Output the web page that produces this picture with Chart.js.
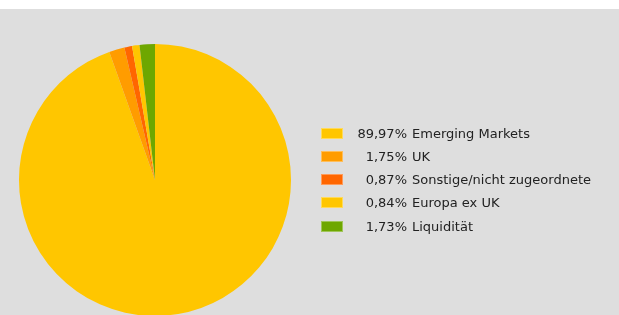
<!DOCTYPE html>
<html>
<head>
<meta charset="utf-8">
<script src="https://cdn.jsdelivr.net/npm/chart.js@4"></script>
<style>
  body { margin: 0; background: #fff; }
  #wrap { position: absolute; left: 0; top: 9px; width: 619px; height: 306px; background: #dedede; overflow: hidden; }
  #myChart { position: absolute; left: 0; top: 0; }
  .row { position: absolute; left: 321px; height: 23px; line-height: 23px; font-family: 'DejaVu Sans', Verdana, sans-serif; font-size: 13px; color: #222; white-space: nowrap; }
  .swatch { position: absolute; left: 0; top: 6px; width: 20px; height: 9px; border: 1px solid rgba(255,255,255,0.35); }
  .pct { position: absolute; left: 36px; width: 50px; text-align: right; }
  .lbl { position: absolute; left: 91px; }
</style>
</head>
<body>
<div id="wrap">
  <canvas id="myChart" width="619" height="320"></canvas>
</div>
<script>
// Anteile
var labels = ['Emerging Markets', 'UK', 'Sonstige/nicht zugeordnete', 'Europa ex UK', 'Liquidität'];
var values = [89.97, 1.75, 0.87, 0.84, 1.73];
var colors = ['#ffc600', '#ff9c00', '#ff6600', '#ffc600', '#6ea700'];

var ctx = document.getElementById('myChart').getContext('2d');
var myChart = new Chart(ctx, {
    type: 'pie',
    data: {
        labels: labels,
        datasets: [{
            data: values,
            backgroundColor: colors,
            borderWidth: 0
        }]
    },
    options: {
        responsive: false,
        animation: false,
        layout: {
            padding: { left: 19, right: 328, top: 35, bottom: 13 }
        },
        plugins: {
            legend: { display: false },
            tooltip: { enabled: false }
        }
    }
});

// Legende
var wrap = document.getElementById('wrap');
labels.forEach(function(label, i) {
    var row = document.createElement('div');
    row.className = 'row';
    row.style.top = (112.5 + i * 23.25) + 'px';
    var sw = document.createElement('span');
    sw.className = 'swatch';
    sw.style.background = colors[i];
    var pct = document.createElement('span');
    pct.className = 'pct';
    pct.textContent = values[i].toFixed(2).replace('.', ',') + '%';
    var lbl = document.createElement('span');
    lbl.className = 'lbl';
    lbl.textContent = label;
    row.appendChild(sw);
    row.appendChild(pct);
    row.appendChild(lbl);
    wrap.appendChild(row);
});
</script>
</body>
</html>
